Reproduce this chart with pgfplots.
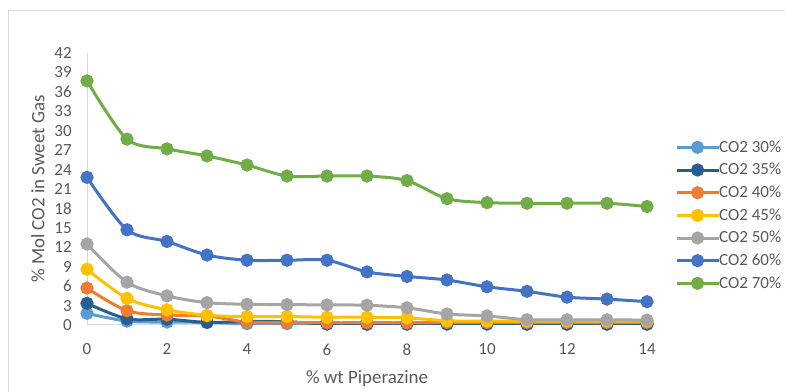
\documentclass[border=0pt]{standalone}
\usepackage{fontspec}
\setmainfont{Carlito}
\usepackage{pgfplots}
\pgfplotsset{compat=1.18}

\definecolor{cLightBlue}{HTML}{5B9BD5}
\definecolor{cDarkBlue}{HTML}{255E91}
\definecolor{cOrange}{HTML}{ED7D31}
\definecolor{cYellow}{HTML}{FFC000}
\definecolor{cGray}{HTML}{A5A5A5}
\definecolor{cBlue}{HTML}{4472C4}
\definecolor{cGreen}{HTML}{70AD47}
\definecolor{axisgray}{HTML}{D9D9D9}
\definecolor{textgray}{HTML}{595959}

\begin{document}
\begin{tikzpicture}
\useasboundingbox (0,0) rectangle (588.75pt,294pt);
% light outer frame
\draw[axisgray, line width=0.75pt] (6pt,0pt) -- (6pt,285.75pt) -- (600pt,285.75pt);
\begin{axis}[
  at={(65.25pt,50.25pt)}, anchor=south west,
  scale only axis, width=420pt, height=204pt,
  xmin=0, xmax=14, ymin=0, ymax=42,
  xtick={0,2,...,14}, ytick={0,3,...,42},
  axis x line=bottom, axis y line=left,
  axis line style={axisgray, line width=0.75pt, -},
  major tick length=0pt,
  /pgf/number format/assume math mode=true,
  tick label style={font=\fontsize{12.75}{14}\selectfont, text=textgray},
  xticklabel style={yshift=-10.5pt},
  yticklabel style={xshift=-8pt},
  label style={font=\fontsize{14.2}{16}\selectfont, text=textgray},
  xlabel={\% wt Piperazine},
  ylabel={\% Mol CO2 in Sweet Gas},
  xlabel style={at={(axis description cs:0.5,-0.195)}, anchor=center},
  ylabel style={at={(axis description cs:-0.0875,0.5)}, anchor=center},
  every axis plot/.append style={line width=2.25pt, smooth, mark=*, mark size=3.8pt, mark options={solid}},
  legend image code/.code={\draw[mark repeat=2,mark phase=2] plot coordinates {(0pt,0pt) (15.6pt,0pt) (31.2pt,0pt)};},
  legend cell align=left,
  legend style={draw=none, fill=none, at={(axis description cs:1.050,0.684)}, anchor=north west,
    font=\fontsize{12.75}{14}\selectfont, text=textgray, row sep=4.8pt, column sep=-1.5pt,
    inner sep=0pt, nodes={inner sep=1pt}},
]
\addplot[color=cLightBlue] coordinates {
 (0,1.8) (1,0.6) (2,0.45) (3,0.4) (4,0.2) (5,0.2) (6,0.15) (7,0.1)
 (8,0.1) (9,0.1) (10,0.1) (11,0.1) (12,0.1) (13,0.1) (14,0.1)};
\addlegendentry{CO2 30\%}
\addplot[color=cDarkBlue] coordinates {
 (0,3.35) (1,0.95) (2,0.9) (3,0.4) (4,0.55) (5,0.5) (6,0.15) (7,0.15)
 (8,0.2) (9,0.2) (10,0.2) (11,0.15) (12,0.15) (13,0.15) (14,0.15)};
\addlegendentry{CO2 35\%}
\addplot[color=cOrange] coordinates {
 (0,5.7) (1,2.2) (2,1.55) (3,1.4) (4,0.45) (5,0.4) (6,0.35) (7,0.35)
 (8,0.35) (9,0.4) (10,0.4) (11,0.4) (12,0.4) (13,0.4) (14,0.4)};
\addlegendentry{CO2 40\%}
\addplot[color=cYellow] coordinates {
 (0,8.6) (1,4.1) (2,2.35) (3,1.5) (4,1.3) (5,1.3) (6,1.2) (7,1.2)
 (8,1.1) (9,0.65) (10,0.6) (11,0.6) (12,0.6) (13,0.6) (14,0.6)};
\addlegendentry{CO2 45\%}
\addplot[color=cGray] coordinates {
 (0,12.5) (1,6.6) (2,4.5) (3,3.45) (4,3.2) (5,3.15) (6,3.1) (7,3.05)
 (8,2.65) (9,1.7) (10,1.4) (11,0.82) (12,0.8) (13,0.8) (14,0.75)};
\addlegendentry{CO2 50\%}
\addplot[color=cBlue] coordinates {
 (0,22.8) (1,14.7) (2,12.9) (3,10.8) (4,10.0) (5,10.0) (6,10.0) (7,8.2)
 (8,7.5) (9,6.95) (10,5.9) (11,5.2) (12,4.3) (13,4.0) (14,3.6)};
\addlegendentry{CO2 60\%}
\addplot[color=cGreen] coordinates {
 (0,37.7) (1,28.7) (2,27.2) (3,26.1) (4,24.7) (5,23.0) (6,23.0) (7,23.0)
 (8,22.3) (9,19.5) (10,18.9) (11,18.8) (12,18.8) (13,18.8) (14,18.3)};
\addlegendentry{CO2 70\%}
\end{axis}
\end{tikzpicture}
\end{document}
